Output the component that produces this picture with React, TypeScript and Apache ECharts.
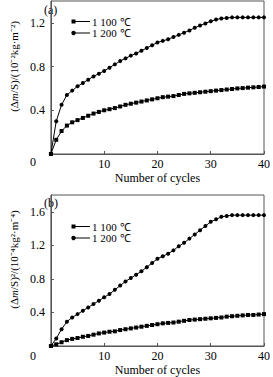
import React, { useEffect, useRef } from "react";
import * as echarts from "echarts";

const cycles = [0,1,2,3,4,5,6,7,8,9,10,11,12,13,14,15,16,17,18,19,20,21,22,23,24,25,26,27,28,29,30,31,32,33,34,35,36,37,38,39,40];

const a1100 = [0,0.13,0.21,0.26,0.29,0.31,0.33,0.35,0.37,0.385,0.40,0.41,0.42,0.435,0.45,0.46,0.47,0.48,0.49,0.50,0.51,0.52,0.525,0.53,0.54,0.55,0.555,0.56,0.565,0.57,0.575,0.58,0.585,0.59,0.595,0.60,0.603,0.607,0.61,0.613,0.617];
const a1200 = [0,0.30,0.45,0.54,0.58,0.62,0.65,0.68,0.71,0.735,0.76,0.79,0.82,0.85,0.875,0.90,0.92,0.945,0.97,0.995,1.02,1.035,1.05,1.07,1.09,1.11,1.13,1.155,1.175,1.195,1.215,1.23,1.24,1.245,1.25,1.25,1.25,1.25,1.25,1.25,1.25];
const b1100 = [0,0.02,0.045,0.07,0.085,0.095,0.11,0.12,0.135,0.15,0.16,0.17,0.175,0.19,0.20,0.21,0.22,0.23,0.24,0.25,0.26,0.27,0.275,0.28,0.29,0.30,0.31,0.315,0.32,0.325,0.33,0.335,0.34,0.35,0.355,0.36,0.365,0.37,0.37,0.375,0.38];
const b1200 = [0,0.09,0.20,0.29,0.34,0.38,0.42,0.46,0.50,0.54,0.58,0.62,0.67,0.72,0.77,0.81,0.85,0.89,0.94,0.99,1.04,1.07,1.10,1.14,1.19,1.23,1.28,1.33,1.38,1.43,1.48,1.51,1.54,1.55,1.56,1.56,1.56,1.56,1.56,1.56,1.56];

const seriesNames = ["1 100 ℃", "1 200 ℃"];
const panelLabels = ["(a)", "(b)"];
const xName = "Number of cycles";
const originLabel = "0";

const FONT = "Liberation Serif";
const AXIS = "#555";

function pairs(ys: number[]) {
  return ys.map((v, i) => [cycles[i], v]);
}

function legendGraphic(y1: number, y2: number) {
  const txt = (text: string, y: number) => ({
    type: "text",
    x: 92,
    y,
    style: { text, font: `11px "${FONT}"`, fill: "#000", verticalAlign: "middle", align: "left" },
  });
  const ln = (y: number) => ({
    type: "line",
    shape: { x1: 75, y1: y, x2: 90, y2: y },
    style: { stroke: "#000", lineWidth: 1 },
  });
  return [
    { type: "rect", shape: { x: 71.5, y: y1 - 2, width: 4, height: 4 }, style: { fill: "#000" } },
    ln(y1),
    txt(seriesNames[0], y1),
    { type: "circle", shape: { cx: 73.5, cy: y2, r: 2.2 }, style: { fill: "#000" } },
    ln(y2),
    txt(seriesNames[1], y2),
  ];
}

export default function App() {
  const ref = useRef<HTMLDivElement>(null);
  useEffect(() => {
    if (!ref.current) return;
    const chart = echarts.init(ref.current, null, { renderer: "svg" });
    const xAxisBase = (gi: number) => ({
      type: "value",
      gridIndex: gi,
      min: 0,
      max: 40,
      interval: 10,
      name: xName,
      nameLocation: "middle",
      nameGap: 18,
      nameTextStyle: { fontFamily: FONT, fontSize: 12, color: "#000" },
      axisLine: { show: true, lineStyle: { color: AXIS, width: 1 } },
      axisTick: { show: true, inside: true, length: 3, lineStyle: { color: AXIS } },
      splitLine: { show: false },
      axisLabel: {
        fontFamily: FONT,
        fontSize: 12,
        color: "#000",
        margin: 4,
        showMinLabel: false,
      },
    });
    const yAxisBase = (gi: number, max: number, name: string) => ({
      type: "value",
      gridIndex: gi,
      min: 0,
      max,
      interval: 0.4,
      name,
      nameLocation: "middle",
      nameGap: 27,
      nameTextStyle: {
        fontFamily: FONT,
        fontSize: 11,
        color: "#000",
        padding: [0, 0, 0, 22],
        rich: {
          i: { fontFamily: FONT, fontSize: 11, fontStyle: "italic", color: "#000" },
        },
      },
      axisLine: { show: true, lineStyle: { color: AXIS, width: 1 } },
      axisTick: { show: true, inside: true, length: 3, lineStyle: { color: AXIS } },
      splitLine: { show: false },
      axisLabel: {
        fontFamily: FONT,
        fontSize: 12,
        color: "#000",
        margin: 6,
        showMinLabel: false,
        showMaxLabel: false,
        formatter: (v: number) => v.toFixed(1),
      },
    });
    const lineSeries = (name: string, data: number[], idx: number, symbol: string) => ({
      name,
      type: "line",
      xAxisIndex: idx,
      yAxisIndex: idx,
      data: pairs(data),
      symbol,
      symbolSize: 4,
      showAllSymbol: true,
      itemStyle: { color: "#000" },
      lineStyle: { color: "#000", width: 1 },
    });
    const originText = (y: number) => ({
      type: "text",
      x: 33,
      y,
      style: { text: originLabel, font: `12px "${FONT}"`, fill: "#000", align: "center", verticalAlign: "middle" },
    });
    chart.setOption({
      animation: false,
      backgroundColor: "#fff",
      grid: [
        { left: 40, right: 3, top: 1, height: 153, show: true, borderColor: AXIS, borderWidth: 1, backgroundColor: "transparent" },
        { left: 40, right: 3, top: 195, height: 153, show: true, borderColor: AXIS, borderWidth: 1, backgroundColor: "transparent" },
      ],
      xAxis: [xAxisBase(0), xAxisBase(1)],
      yAxis: [
        yAxisBase(0, 1.4, "(Δ{i|m}/S)/(10⁻²kg·m⁻²)"),
        yAxisBase(1, 1.8, "(Δ{i|m}/S)²/(10⁻⁴kg²·m⁻⁴)"),
      ],
      graphic: [
        { type: "text", x: 44, y: 10, style: { text: panelLabels[0], font: `12px "${FONT}"`, fill: "#000", verticalAlign: "middle" } },
        { type: "text", x: 44, y: 203, style: { text: panelLabels[1], font: `12px "${FONT}"`, fill: "#000", verticalAlign: "middle" } },
        originText(162),
        originText(356),
        ...legendGraphic(21.5, 33),
        ...legendGraphic(226.5, 238),
      ],
      series: [
        lineSeries(seriesNames[0], a1100, 0, "rect"),
        lineSeries(seriesNames[1], a1200, 0, "circle"),
        lineSeries(seriesNames[0], b1100, 1, "rect"),
        lineSeries(seriesNames[1], b1200, 1, "circle"),
      ],
    });
    return () => chart.dispose();
  }, []);
  return (
    <div
      ref={ref}
      style={{ position: "fixed", left: 0, top: 0, width: 273, height: 377, background: "#fff" }}
    />
  );
}
